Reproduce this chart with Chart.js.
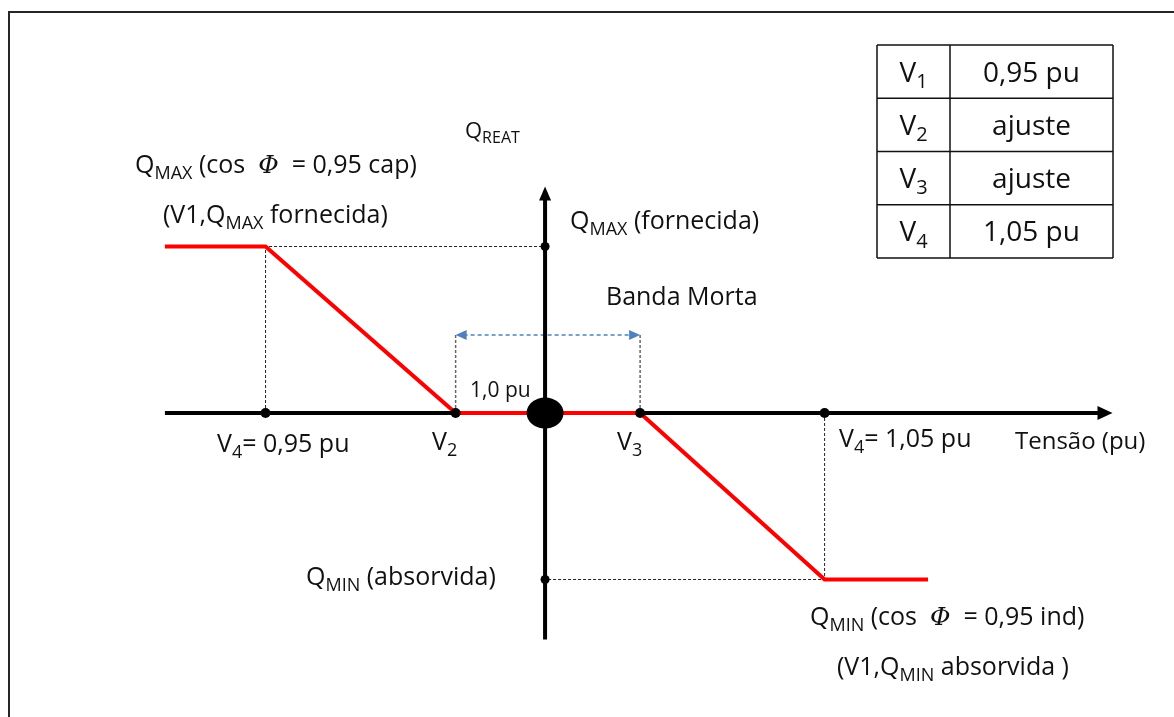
<!DOCTYPE html>
<html>
<head>
<meta charset="utf-8">
<script src="https://cdn.jsdelivr.net/npm/chart.js@4.4.1/dist/chart.umd.min.js"></script>
<style>
  html, body { margin: 0; padding: 0; background: #fff; overflow: hidden; }
  canvas { display: block; }
</style>
</head>
<body>
<canvas id="diagram" width="1174" height="717"></canvas>
<script>
// ── DATA ──────────────────────────────────────────────────────────
// tensão (pu) / Q reativa (pu de Qmax) da curva de controle
const curveV = [0.932, 0.95, 0.984, 1.017, 1.05, 1.0685];
const curveQ = [1, 1, 0, 0, -1, -1];
// pontos marcados sobre o eixo das tensões (V1/V4, V2, V3, V4)
const axisDotV = [0.95, 0.984, 1.017, 1.05];
// Qmax / Qmin marcados sobre o eixo vertical
const limitQ = [1, -1];
// tabela de ajustes
const tableKeys = ['1', '2', '3', '4'];
const tableValues = ['0,95 pu', 'ajuste', 'ajuste', '1,05 pu'];

const FAM = '"Open Sans", "Noto Sans", sans-serif';
const INK = '#111';

// ── HELPER: text with subscripts / italic phi ────────────────────
function drawRich(ctx, parts, x, y, size, align) {
  const fontFor = (kind) => {
    if (kind === 'sub') return `${Math.round(size * 0.72)}px ${FAM}`;
    if (kind === 'phi') return `italic ${size}px "DejaVu Serif", serif`;
    return `${size}px ${FAM}`;
  };
  let total = 0;
  parts.forEach(([t, k]) => { ctx.font = fontFor(k); total += ctx.measureText(t).width; });
  let cx = align === 'center' ? x - total / 2 : x;
  ctx.fillStyle = INK;
  ctx.textBaseline = 'alphabetic';
  ctx.textAlign = 'left';
  parts.forEach(([t, k]) => {
    ctx.font = fontFor(k);
    const dy = k === 'sub' ? size * 0.22 : 0;
    ctx.fillText(t, cx, y + dy);
    cx += ctx.measureText(t).width;
  });
}

function dashed(ctx, pts, color, dash, width) {
  ctx.save();
  ctx.strokeStyle = color;
  ctx.lineWidth = width;
  ctx.setLineDash(dash);
  ctx.beginPath();
  pts.forEach(([px, py], i) => i ? ctx.lineTo(px, py) : ctx.moveTo(px, py));
  ctx.stroke();
  ctx.restore();
}

function arrowHead(ctx, tipX, tipY, dirX, dirY, len, half, color) {
  const bx = tipX - dirX * len, by = tipY - dirY * len;
  ctx.beginPath();
  ctx.moveTo(tipX, tipY);
  ctx.lineTo(bx - dirY * half, by + dirX * half);
  ctx.lineTo(bx + dirY * half, by - dirX * half);
  ctx.closePath();
  ctx.fillStyle = color;
  ctx.fill();
}

// ── PLUGIN: axes, guides, labels, table ──────────────────────────
const diagramPlugin = {
  id: 'diagram',
  beforeDatasetsDraw(chart) {
    const { ctx, scales: { x, y } } = chart;
    const X = (v) => x.getPixelForValue(v);
    const Y = (q) => y.getPixelForValue(q);

    // frame
    ctx.save();
    ctx.strokeStyle = '#262626';
    ctx.lineWidth = 2;
    ctx.beginPath();
    ctx.moveTo(9, 730); ctx.lineTo(9, 12); ctx.lineTo(1190, 12);
    ctx.stroke();

    // guide lines
    dashed(ctx, [[X(curveV[1]), Y(0)], [X(curveV[1]), Y(curveQ[1])], [X(1.0), Y(curveQ[1])]], '#222', [3, 2], 1);
    dashed(ctx, [[X(curveV[4]), Y(0)], [X(curveV[4]), Y(curveQ[4])], [X(1.0), Y(curveQ[4])]], '#222', [3, 2], 1);
    const band = 0.468;
    dashed(ctx, [[X(curveV[2]), Y(0)], [X(curveV[2]), Y(band)]], '#666', [3, 2], 1.5);
    dashed(ctx, [[X(curveV[3]), Y(0)], [X(curveV[3]), Y(band)]], '#666', [3, 2], 1.5);
    dashed(ctx, [[X(curveV[2]) + 8, Y(band)], [X(curveV[3]) - 8, Y(band)]], '#4f81bd', [4, 3], 1.5);
    arrowHead(ctx, X(curveV[2]), Y(band), -1, 0, 11, 5, '#4f81bd');
    arrowHead(ctx, X(curveV[3]), Y(band), 1, 0, 11, 5, '#4f81bd');

    // axes
    ctx.strokeStyle = '#000';
    ctx.lineWidth = 4;
    ctx.beginPath();
    ctx.moveTo(X(curveV[0]), Y(0)); ctx.lineTo(X(1.099), Y(0));
    ctx.moveTo(X(1.0), Y(-1.36)); ctx.lineTo(X(1.0), Y(1.30));
    ctx.stroke();
    arrowHead(ctx, X(1.1015), Y(0), 1, 0, 15, 7, '#000');
    arrowHead(ctx, X(1.0), Y(1.36), 0, -1, 14, 6, '#000');
    ctx.restore();
  },
  afterDatasetsDraw(chart) {
    const { ctx, scales: { x, y } } = chart;
    ctx.save();
    // origin marker
    ctx.beginPath();
    ctx.ellipse(x.getPixelForValue(1.0), y.getPixelForValue(0), 18.5, 15.5, 0, 0, Math.PI * 2);
    ctx.fillStyle = '#000';
    ctx.fill();

    // labels
    drawRich(ctx, [['Q'], ['REAT', 'sub']], 465, 138, 22);
    drawRich(ctx, [['Q'], ['MAX', 'sub'], [' (cos  '], ['Φ', 'phi'], ['  = 0,95 cap)']], 135, 173, 25);
    drawRich(ctx, [['(V1,Q'], ['MAX', 'sub'], [' fornecida)']], 163, 223, 25);
    drawRich(ctx, [['Q'], ['MAX', 'sub'], [' (fornecida)']], 570, 229, 25);
    drawRich(ctx, [['Banda Morta']], 606, 305, 25);
    drawRich(ctx, [['1,0 pu']], 470, 397, 21);
    drawRich(ctx, [['V'], ['4', 'sub'], ['= 0,95 pu']], 217, 452, 25);
    drawRich(ctx, [['V'], ['2', 'sub']], 432, 450, 25);
    drawRich(ctx, [['V'], ['3', 'sub']], 617, 450, 25);
    drawRich(ctx, [['V'], ['4', 'sub'], ['= 1,05 pu']], 839, 447, 25);
    drawRich(ctx, [['Tensão (pu)']], 1015, 449, 24);
    drawRich(ctx, [['Q'], ['MIN', 'sub'], [' (absorvida)']], 306, 585, 25);
    drawRich(ctx, [['Q'], ['MIN', 'sub'], [' (cos  '], ['Φ', 'phi'], ['  = 0,95 ind)']], 810, 625, 25);
    drawRich(ctx, [['(V1,Q'], ['MIN', 'sub'], [' absorvida )']], 837, 675, 25);

    // table
    const tx0 = 877, tx1 = 950, tx2 = 1113, ty0 = 45, rowH = 53.25;
    ctx.strokeStyle = '#111';
    ctx.lineWidth = 1.5;
    ctx.beginPath();
    for (let i = 0; i <= tableKeys.length; i++) {
      ctx.moveTo(tx0, ty0 + i * rowH); ctx.lineTo(tx2, ty0 + i * rowH);
    }
    ctx.moveTo(tx0, ty0); ctx.lineTo(tx0, ty0 + tableKeys.length * rowH);
    ctx.moveTo(tx1, ty0); ctx.lineTo(tx1, ty0 + tableKeys.length * rowH);
    ctx.moveTo(tx2, ty0); ctx.lineTo(tx2, ty0 + tableKeys.length * rowH);
    ctx.stroke();
    tableKeys.forEach((k, i) => {
      const base = ty0 + i * rowH + rowH / 2 + 10;
      drawRich(ctx, [['V'], [k, 'sub']], (tx0 + tx1) / 2, base, 28, 'center');
      drawRich(ctx, [[tableValues[i]]], (tx1 + tx2) / 2, base, 28, 'center');
    });
    ctx.restore();
  }
};

// ── CHART ─────────────────────────────────────────────────────────
new Chart(document.getElementById('diagram').getContext('2d'), {
  type: 'scatter',
  data: {
    datasets: [
      {
        label: 'marcas',
        data: axisDotV.map((v) => ({ x: v, y: 0 })),
        pointRadius: 5,
        pointBackgroundColor: '#000',
        pointBorderWidth: 0,
      },
      {
        label: 'limites',
        data: limitQ.map((q) => ({ x: 1.0, y: q })),
        pointRadius: 4.5,
        pointBackgroundColor: '#000',
        pointBorderWidth: 0,
      },
      {
        label: 'curva',
        data: curveV.map((v, i) => ({ x: v, y: curveQ[i] })),
        showLine: true,
        borderColor: '#ff0000',
        borderWidth: 4,
        pointRadius: 0,
        tension: 0,
      },
    ]
  },
  options: {
    responsive: false,
    animation: false,
    events: [],
    layout: { padding: 0, autoPadding: false },
    scales: {
      x: { type: 'linear', min: 0.9025, max: 1.1125, display: false },
      y: { type: 'linear', min: -1.8258, max: 2.4805, display: false },
    },
    plugins: { legend: { display: false }, tooltip: { enabled: false } }
  },
  plugins: [diagramPlugin]
});
</script>
</body>
</html>
